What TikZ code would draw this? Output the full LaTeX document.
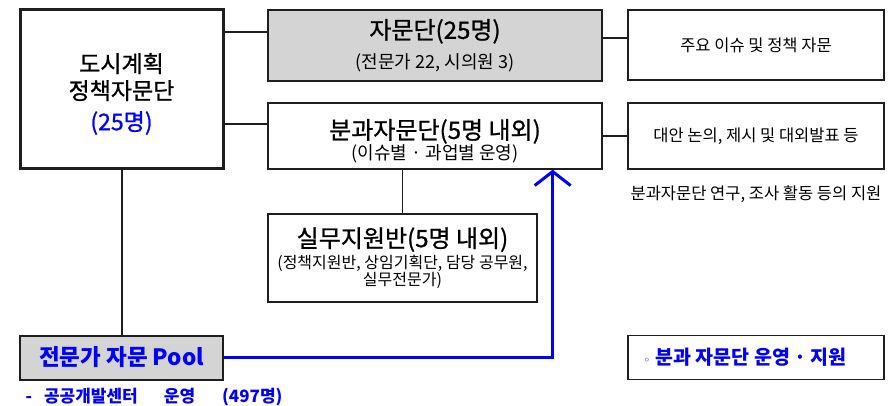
\documentclass[tikz,border=0pt]{standalone}
\usepackage{fontspec}
\setmainfont{Noto Sans CJK KR}
\newfontfamily\symfont{DejaVu Sans}
\newfontfamily\heavyfont[FakeBold=1]{Noto Sans CJK KR}
\usetikzlibrary{arrows.meta}

\begin{document}
\begin{tikzpicture}[x=1pt,y=-1pt,
  box/.style={draw=outlineColor, line width=1.3pt, inner sep=0pt, align=center,
    text=black},
  greybox/.style={box, fill=fillColor},
  link/.style={outlineColor, line width=1.3pt},
  bluelink/.style={blue, line width=3pt}]
% Colors
\definecolor{outlineColor}{RGB}{30,30,30}
\definecolor{fillColor}{RGB}{212,212,212}
\definecolor{noteBlue}{RGB}{0,0,255}
\newcommand\titlesize{\heavyfont\fontsize{24}{27}\selectfont}
\newcommand\subsize{\fontsize{18}{20}\selectfont}
\useasboundingbox (0,0) rectangle (891,406);
% Left column
\node[box, line width=3pt, minimum width=203, minimum height=159,
  font=\heavyfont\fontsize{23}{27}\selectfont] (council) at (121.5,89.5)
  {\rule{0pt}{28pt}도시계획\\정책자문단\\[4pt]\textcolor{noteBlue}{(25명)}};
\node[greybox, line width=2pt, minimum width=203, minimum height=44,
  font=\bfseries\fontsize{22.5}{24}\selectfont, text=noteBlue] (pool) at (121.5,357.5)
  {전문가 자문 Pool};
\node[anchor=west, text=noteBlue, font=\bfseries\fontsize{17}{20}\selectfont]
  (poolNote) at ([xshift=3,yshift=-17]pool.south west)
  {-\hspace{12pt}공공개발센터\hspace{26pt}운영\hspace{27pt}(497명)};
% Middle column
\node[greybox, minimum width=334, minimum height=71] (panel) at (435,45.5)
  {\titlesize 자문단(25명)\\[9pt]
   \subsize (전문가 22, 시의원 3)};
\node[box, minimum width=334, minimum height=66] (subPanel) at (435,136)
  {\titlesize\rule{0pt}{30pt}분과자문단(5명 내외)\\[0pt]
   \subsize (이슈별 · 과업별 운영)};
\node[box, minimum width=269, minimum height=88] (staff) at (402.5,258)
  {\titlesize 실무지원반(5명 내외)\\[2pt]
   \fontsize{16}{19}\selectfont (정책지원반, 상임기획단, 담당 공무원,\\
   \fontsize{16}{19}\selectfont 실무전문가)};
% Right column
\node[box, minimum width=256, minimum height=70,
  font=\fontsize{16.5}{20}\selectfont] (issues) at (756,45) {주요 이슈 및 정책 자문};
\node[box, minimum width=256, minimum height=66,
  font=\fontsize{16.5}{20}\selectfont] (options) at (756,136)
  {대안 논의, 제시 및 대외발표 등};
\node[font=\fontsize{16.5}{20}\selectfont] (optionsNote) at ([yshift=-25]options.south)
  {분과자문단 연구, 조사 활동 등의 지원};
\node[box, minimum width=256, minimum height=44, text=noteBlue,
  font=\bfseries\fontsize{19.5}{22}\selectfont] (support) at (756,357.5)
  {{\symfont\mdseries\fontsize{12}{14}\selectfont ◦}\hspace{5pt}분과 자문단 운영 · 지원\hspace{22pt}};
% Connectors
\begin{scope}[link]
  \draw ([yshift=13.5]panel.west) coordinate (p1) -- (p1 -| council.east);
  \draw ([yshift=12]subPanel.west) coordinate (s1) -- (s1 -| council.east);
  \draw ([yshift=7.5]panel.east) coordinate (p2) -- (p2 -| issues.west);
  \draw (subPanel.east) -- (options.west);
  \draw (staff.north) -- (staff.north |- subPanel.south);
  \draw[line width=2pt] (council.south) -- (pool.north);
\end{scope}
\coordinate (arrowTip) at ([xshift=-50]subPanel.south east);
\draw[bluelink, -{Straight Barb[length=14pt,width=36pt]}] (pool.east) -| (arrowTip);
\end{tikzpicture}
\end{document}
